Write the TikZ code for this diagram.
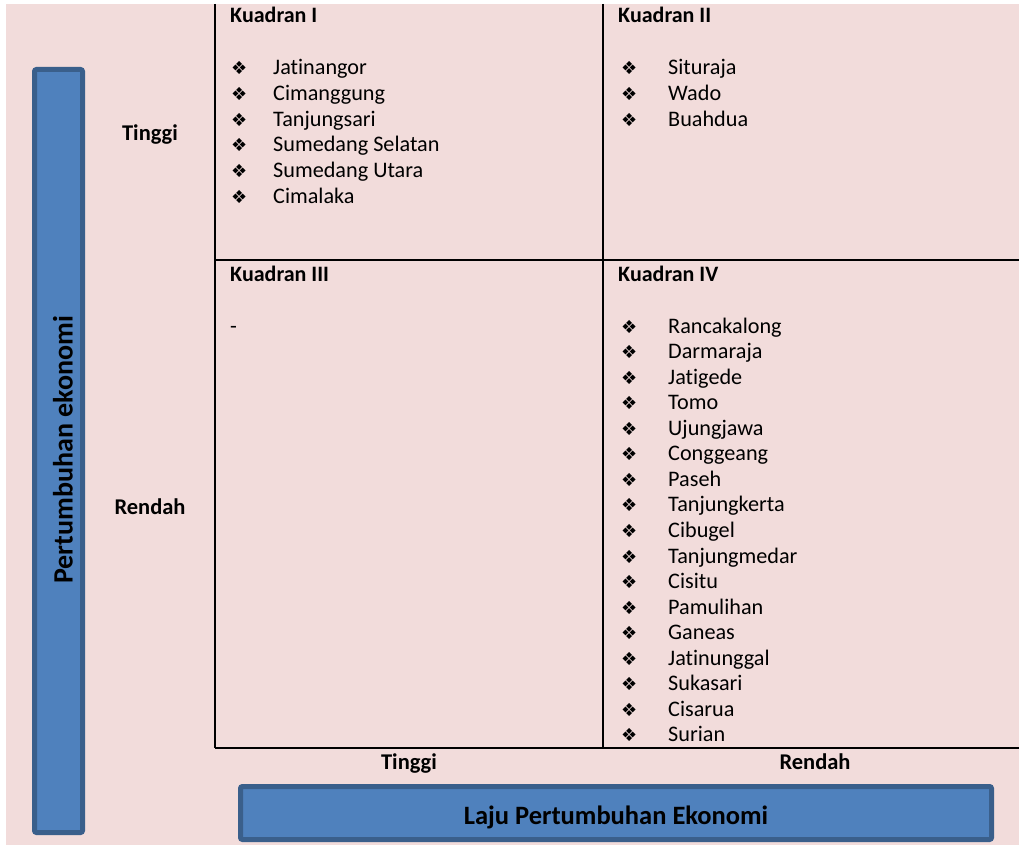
\documentclass[tikz,border=0pt]{standalone}
\usepackage{fontspec}
\setmainfont{Carlito}[Ligatures=NoCommon]
\newfontfamily\symfont{DejaVu Sans}
\definecolor{bgpink}{HTML}{F2DCDB}
\definecolor{barblue}{HTML}{4F81BD}
\definecolor{barborder}{HTML}{3A5F8B}
\tikzset{
  bar/.style={draw=barborder, fill=barblue, line width=5pt, rounded corners=2pt, inner sep=0pt},
  gridline/.style={line width=2pt, black},
  axislabel/.style={font=\bfseries\fontsize{22.5}{24}\selectfont, inner sep=0pt},
  quadtitle/.style={font=\bfseries\fontsize{22}{24}\selectfont, anchor=base west, inner sep=0pt},
  itemtext/.style={font=\fontsize{22.2}{24}\selectfont, anchor=base west, inner sep=0pt},
  bulletsym/.style={font=\symfont\fontsize{18}{20}\selectfont, anchor=base west, inner sep=0pt},
}
\begin{document}
\begin{tikzpicture}[x=1pt,y=-1pt]
\useasboundingbox (0,0) rectangle (1019,845);
\fill[white] (0,0) rectangle (1019,845);
\fill[bgpink] (6,4) rectangle (1019,845);

% blue bars
\node[bar, minimum width=48pt, minimum height=763pt] (vbar) at (58.5,451) {};
\node[axislabel, font=\bfseries\fontsize{28}{30}\selectfont, rotate=90] (vlabel) at (63,450) {Pertumbuhan ekonomi};
\node[bar, minimum width=751pt, minimum height=53pt] (hbar) at (616,813) {};
\node[axislabel, font=\bfseries\fontsize{26.5}{28}\selectfont] (hlabel) at (616,817) {Laju Pertumbuhan Ekonomi};

% grid
\coordinate (g1) at (215,4);
\coordinate (g2) at (215,748);
\coordinate (g3) at (603,4);
\coordinate (g4) at (603,748);
\coordinate (g5) at (215,260);
\coordinate (g6) at (1019,260);
\coordinate (g7) at (1019,748);
\draw[gridline] (g1) -- (g2);
\draw[gridline] (g3) -- (g4);
\draw[gridline] (g5) -- (g6);
\draw[gridline] (g2) -- (g7);

% axis level labels
\node[axislabel, anchor=base] (ltinggi) at (150,141) {Tinggi};
\node[axislabel, anchor=base] (lrendah) at (150,514) {Rendah};
\node[axislabel, anchor=base] (btinggi) at (409,769) {Tinggi};
\node[axislabel, anchor=base] (brendah) at (815,769) {Rendah};

% quadrant titles
\node[quadtitle] (q1) at (230,23) {Kuadran I};
\node[quadtitle] (q2) at (618,23) {Kuadran II};
\node[quadtitle] (q3) at (230,281) {Kuadran III};
\node[quadtitle] (q4) at (618,281) {Kuadran IV};

% Kuadran I
\foreach \t [count=\i from 0] in {Jatinangor,Cimanggung,Tanjungsari,Sumedang Selatan,Sumedang Utara,Cimalaka}{
  \node[bulletsym] (b1-\i) at (231,{75+25.6*\i}) {❖};
  \node[itemtext] (t1-\i) at (273,{75+25.6*\i}) {\t};
}
% Kuadran II
\foreach \t [count=\i from 0] in {Situraja,Wado,Buahdua}{
  \node[bulletsym] (b2-\i) at (621,{75+25.6*\i}) {❖};
  \node[itemtext] (t2-\i) at (668,{75+25.6*\i}) {\t};
}
% Kuadran III
\node[itemtext] (t3) at (230,333) {-};
% Kuadran IV
\foreach \t [count=\i from 0] in {Rancakalong,Darmaraja,Jatigede,Tomo,Ujungjawa,Conggeang,Paseh,Tanjungkerta,Cibugel,Tanjungmedar,Cisitu,Pamulihan,Ganeas,Jatinunggal,Sukasari,Cisarua,Surian}{
  \node[bulletsym] (b4-\i) at (621,{333+25.56*\i}) {❖};
  \node[itemtext] (t4-\i) at (668,{333+25.56*\i}) {\t};
}
\end{tikzpicture}
\end{document}
